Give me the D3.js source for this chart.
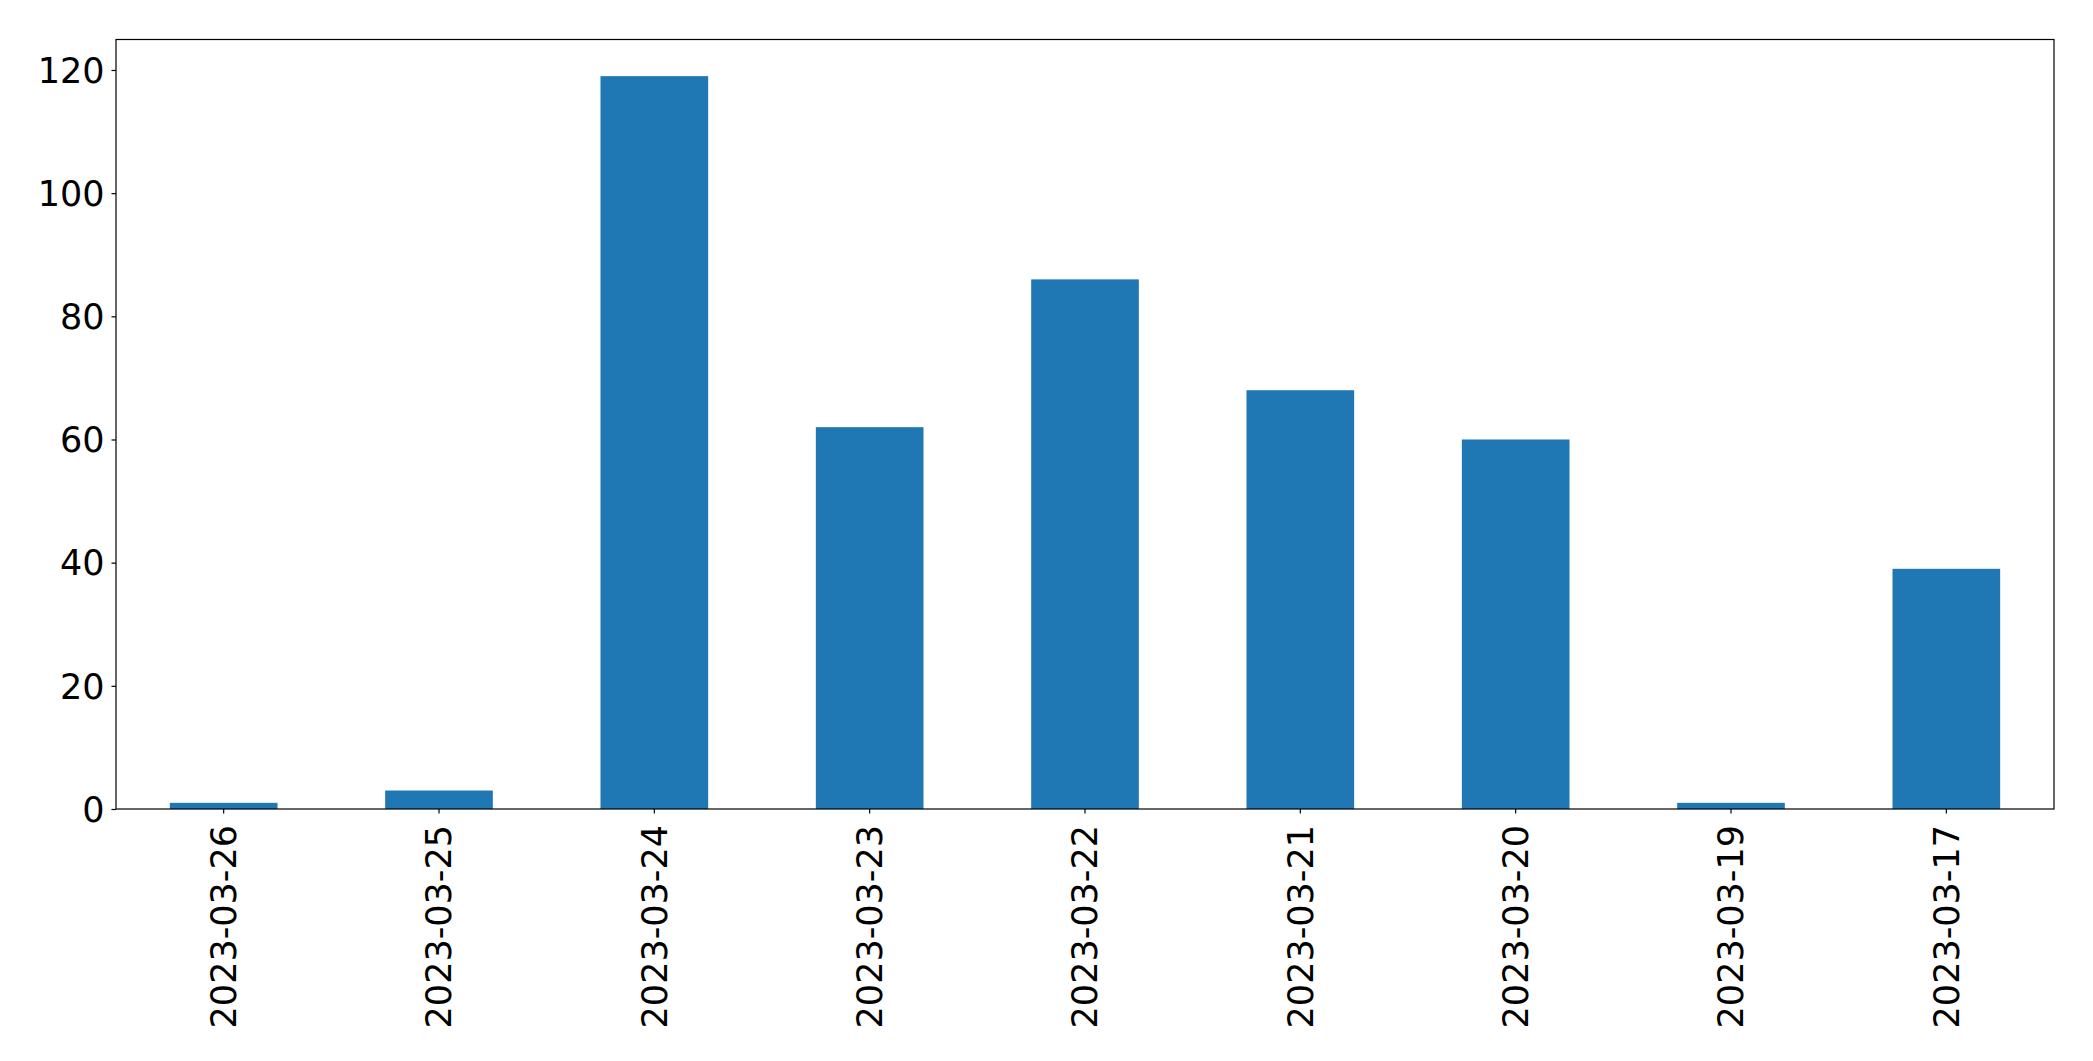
<!DOCTYPE html>
<html>
<head>
<meta charset="utf-8">
<script src="https://cdn.jsdelivr.net/npm/d3@7"></script>
<style>
  html, body { margin: 0; padding: 0; background: #fff; }
  svg text { font-family: "DejaVu Sans", sans-serif; fill: #000; }
</style>
</head>
<body>
<div id="chart"></div>
<script>
// data
const dates = ['2023-03-26', '2023-03-25', '2023-03-24', '2023-03-23', '2023-03-22',
  '2023-03-21', '2023-03-20', '2023-03-19', '2023-03-17'];
const counts = [1, 3, 119, 62, 86, 68, 60, 1, 39];
const yTicks = [0, 20, 40, 60, 80, 100, 120];

const width = 2093;
const height = 1061;
const margin = { top: 39.5, right: 39, bottom: 252, left: 116 };
const fontSize = 35;

const svg = d3.select('#chart')
  .append('svg')
  .attr('width', width)
  .attr('height', height);

const x = d3.scaleBand()
  .domain(dates)
  .range([margin.left, width - margin.right])
  .paddingInner(0.5)
  .paddingOuter(0.25);

const y = d3.scaleLinear()
  .domain([0, d3.max(counts) * 1.05])
  .range([height - margin.bottom, margin.top]);

// bars
svg.append('g')
  .selectAll('rect')
  .data(counts)
  .join('rect')
  .attr('x', (d, i) => x(dates[i]))
  .attr('y', (d) => y(d))
  .attr('width', x.bandwidth())
  .attr('height', (d) => y(0) - y(d))
  .attr('fill', '#1f77b4');

// y axis
const yAxis = svg.append('g')
  .attr('transform', `translate(${margin.left},0)`)
  .call(d3.axisLeft(y).tickValues(yTicks).tickSize(4.5).tickPadding(7).tickFormat(d3.format('d')));
yAxis.select('.domain').remove();
yAxis.selectAll('text').style('font-size', fontSize + 'px').attr('dy', '0.35em');
yAxis.selectAll('line').attr('stroke', '#000').attr('stroke-width', 1.2);

// x axis
const xAxis = svg.append('g')
  .attr('transform', `translate(0,${height - margin.bottom})`)
  .call(d3.axisBottom(x).tickSize(4.5).tickPadding(0));
xAxis.select('.domain').remove();
xAxis.selectAll('line').attr('stroke', '#000').attr('stroke-width', 1.2);
xAxis.selectAll('text')
  .style('font-size', fontSize + 'px')
  .attr('text-anchor', 'end')
  .attr('transform', 'translate(0,16) rotate(-90)')
  .attr('x', 0)
  .attr('y', 0)
  .attr('dy', '0.35em');

// frame
svg.append('rect')
  .attr('x', margin.left)
  .attr('y', margin.top)
  .attr('width', width - margin.left - margin.right)
  .attr('height', height - margin.top - margin.bottom)
  .attr('fill', 'none')
  .attr('stroke', '#000')
  .attr('stroke-width', 1.2);
</script>
</body>
</html>
